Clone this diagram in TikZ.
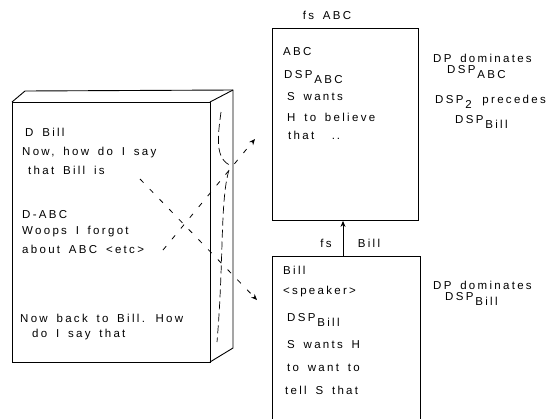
\documentclass[tikz,border=0pt]{standalone}
\usepackage{fontspec}
\setmainfont{Liberation Sans}[LetterSpace=20,WordSpace=1.6]
\usetikzlibrary{arrows.meta}
\begin{document}
\begin{tikzpicture}[x=1pt,y=-1pt,
  txt/.style={inner sep=0pt,anchor=west,font=\fontsize{11.5}{13}\selectfont},
  ctr/.style={inner sep=0pt,anchor=center,font=\fontsize{11.5}{13}\selectfont},
  edge/.style={line width=0.9pt},
  arr/.style={line width=0.9pt,-{Stealth[length=6pt,width=5pt]}},
  darr/.style={line width=0.8pt,dash pattern=on 5pt off 9pt,-{Stealth[length=6pt,width=5pt]}},
  curl/.style={line width=0.7pt,dash pattern=on 8pt off 4pt}]
\useasboundingbox (0,0) rectangle (559,418);
\newcommand{\sub}[1]{\raisebox{-5pt}{#1}}
% left 3D box
\coordinate (fl) at (12,102); \coordinate (fr) at (210,102);
\coordinate (fb) at (210,362); \coordinate (flb) at (12,362);
\coordinate (bl) at (25,91); \coordinate (br) at (233,90); \coordinate (bb) at (233,348);
\draw[edge] (fl) -- (fr) -- (fb) -- (flb) -- cycle;
\draw[edge] (fl) -- (bl) -- (br) -- (bb) -- (fb);
\draw[edge] (fr) -- (br);
\draw[curl] (221,112) .. controls (218,135) and (214,160) .. (232,166);
\draw[curl] (229,170) .. controls (220,200) and (224,260) .. (217,342);
% texts in left box
\node[txt] (t1) at (25,132) {D Bill};
\node[txt] (t2) at (22,153) {Now, how do I say};
\node[txt] (t3) at (28,170) {that Bill is};
\node[txt] (t4) at (22,215) {D-ABC};
\node[txt] (t5) at (22,232) {Woops I forgot};
\node[txt] (t6) at (22,249) {about ABC <etc>};
\node[txt] (t7) at (20,318) {Now back to Bill. How};
\node[txt] (t8) at (32,335) {do I say that};
% top box
\node[draw,edge,minimum width=146pt,minimum height=192pt,anchor=north west,inner sep=0pt] (abc) at (272,28) {};
\node[ctr] (fsabc) at (327,15) {fs ABC};
\node[txt] (a1) at (283,52) {ABC};
\node[txt] (a2) at (284,77) {DSP\,\sub{ABC}};
\node[txt] (a3) at (287,97) {S wants};
\node[txt] (a4) at (287,117) {H to believe};
\node[txt] (a5) at (288,135) {that \ .\,.};
% bottom box
\node[draw,edge,minimum width=148pt,minimum height=200pt,anchor=north west,inner sep=0pt] (bill) at (272,256) {};
\node[txt] (b1) at (283,270) {Bill};
\node[txt] (b2) at (283,292) {<speaker>};
\node[txt] (b3) at (287,320) {DSP\,\sub{Bill}};
\node[txt] (b4) at (287,345) {S wants H};
\node[txt] (b5) at (287,368) {to want to};
\node[txt] (b6) at (285,390) {tell S that};
% arrow between boxes
\coordinate (up0) at (343,256);
\draw[arr] (up0) -- (up0 |- abc.south);
\node[ctr] (fs) at (326,243) {fs};
\node[ctr] (fsb) at (369,243) {Bill};
% dashed arrows
\coordinate (d1s) at (140,179); \coordinate (d1e) at (257,300);
\coordinate (d2s) at (163,250); \coordinate (d2e) at (255,139);
\draw[darr] (d1s) -- (d1e);
\draw[darr] (d2s) -- (d2e);
% right annotations
\node[txt] (r1) at (433,58) {DP dominates};
\node[txt] (r2) at (447,72) {DSP\,\sub{ABC}};
\node[txt] (r3) at (435,102) {DSP\,\sub{2}\, precedes};
\node[txt] (r4) at (455,122) {DSP\,\sub{Bill}};
\node[txt] (r5) at (433,285) {DP dominates};
\node[txt] (r6) at (445,299) {DSP\,\sub{Bill}};
\end{tikzpicture}
\end{document}
